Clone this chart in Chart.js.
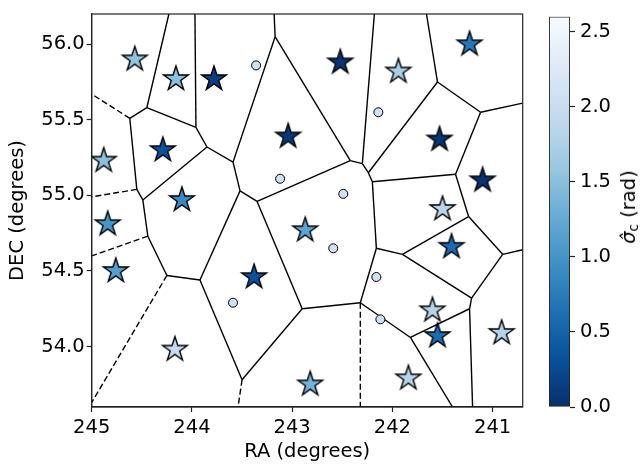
<!DOCTYPE html>
<html>
<head>
<meta charset="utf-8">
<script src="https://cdn.jsdelivr.net/npm/chart.js@4/dist/chart.umd.min.js"></script>
<style>
    html, body { margin: 0; padding: 0; background: #fff; }
    #wrap { position: relative; width: 643px; height: 468px; font-family: "DejaVu Sans", sans-serif; }
    #main { position: absolute; left: 0; top: 0; width: 643px; height: 468px; }
    #cbar { position: absolute; left: 540px; top: 0; width: 103px; height: 468px; }
    #cblabel {
        position: absolute; left: 629px; top: 207px;
        transform: translate(-50%, -50%) rotate(-90deg);
        font-size: 19.5px; white-space: nowrap; color: #000;
    }
    #cblabel sub { font-size: 13.5px; vertical-align: -3px; }
</style>
</head>
<body>
<div id="wrap">
    <div id="main"><canvas id="mainChart"></canvas></div>
    <div id="cbar"><canvas id="cbarChart"></canvas></div>
    <div id="cblabel"><i>&#963;&#770;</i><sub>c</sub> (rad)</div>
</div>
<script>
const raTicks = [245, 244, 243, 242, 241];
const raTickLabels = ["245", "244", "243", "242", "241"];
const decTicks = [54.0, 54.5, 55.0, 55.5, 56.0];
const decTickLabels = ["54.0", "54.5", "55.0", "55.5", "56.0"];
const cbTicks = [0, 0.5, 1.0, 1.5, 2.0, 2.5];
const cbTickLabels = ["0.0", "0.5", "1.0", "1.5", "2.0", "2.5"];

const RA_MIN = 240.7, RA_MAX = 245.0;
const DEC_MIN = 53.6, DEC_MAX = 56.2;
const CB_MAX = 2.6;

// stars
const starRA    = [244.57, 244.16, 243.78, 242.52, 241.94, 241.23, 244.88, 244.29, 243.04, 241.53, 244.10, 244.84,
                   241.10, 241.50, 242.87, 244.76, 243.38, 241.41, 241.60, 241.55, 240.91, 244.17, 242.82, 241.84];
const starDEC   = [55.90, 55.77, 55.77, 55.88, 55.82, 56.00, 55.23, 55.30, 55.39, 55.37, 54.97, 54.81,
                   55.10, 54.91, 54.77, 54.50, 54.46, 54.66, 54.24, 54.07, 54.09, 53.98, 53.75, 53.79];
const starSigma = [1.55, 1.50, 0.15, 0.04, 1.72, 0.72, 1.50, 0.34, 0.10, 0.04, 0.90, 1.02,
                   0.03, 1.85, 1.20, 1.12, 0.34, 0.58, 1.80, 0.60, 1.80, 1.95, 1.36, 1.82];

// small circles
const circRA    = [243.36, 242.14, 243.12, 242.49, 242.59, 242.16, 243.59, 242.12];
const circDEC   = [55.86, 55.55, 55.11, 55.01, 54.65, 54.46, 54.29, 54.18];
const circSigma = [2.08, 2.08, 2.08, 2.08, 2.08, 2.08, 2.08, 2.08];

// voronoi vertices (1-based in edge lists)
const vertRA  = [244.23, 244.45, 244.62, 245.00, 243.97, 243.96, 243.85, 243.59, 243.17, 243.18,
                 244.55, 245.00, 244.49, 244.44, 245.00, 244.25, 245.00, 243.92, 243.52, 243.35,
                 242.42, 242.30, 242.18, 242.24, 241.55, 241.66, 241.12, 240.70, 241.37, 242.20,
                 241.24, 240.90, 240.70, 241.21, 241.23, 241.20, 241.82, 241.40, 241.90, 242.16,
                 242.32, 242.32, 242.90, 243.50, 243.54];
const vertDEC = [56.20, 55.58, 55.51, 55.67, 56.20, 55.45, 55.32, 55.22, 56.05, 56.20,
                 55.04, 54.99, 54.97, 54.73, 54.60, 54.47, 53.63, 54.44, 55.03, 54.96,
                 55.23, 55.21, 56.20, 55.15, 55.75, 56.20, 55.55, 55.61, 55.14, 55.09,
                 54.86, 54.61, 54.64, 54.32, 54.25, 53.60, 54.06, 53.60, 54.61, 54.65,
                 54.29, 53.60, 54.25, 53.78, 53.60];
const solidEdges = [[1,2],[2,3],[2,6],[5,6],[6,7],[7,8],[7,13],[3,11],[11,13],[13,14],[14,16],[16,18],
                    [8,9],[8,19],[9,10],[9,21],[19,20],[19,18],[20,21],[20,43],[21,22],[22,23],[22,24],
                    [24,25],[25,26],[25,27],[27,28],[27,29],[29,30],[24,30],[29,31],[30,40],[31,39],
                    [31,32],[32,33],[32,34],[34,39],[34,35],[35,36],[35,37],[37,41],[37,38],[39,40],
                    [40,41],[41,43],[43,44],[44,18]];
const dashedEdges = [[3,4],[11,12],[14,15],[16,17],[41,42],[44,45]];

const BLUES = ["#f7fbff", "#deebf7", "#c6dbef", "#9ecae1", "#6baed6", "#4292c6", "#2171b5", "#08519c", "#08306b"];
const FONT = { family: "DejaVu Sans", size: 19.5 };
const INK = "#000";

function hexRgb(h) {
    return [1, 3, 5].map(i => parseInt(h.slice(i, i + 2), 16));
}

function blues(t) {
    t = Math.max(0, Math.min(1, t));
    const p = t * 8;
    const i = Math.min(7, Math.floor(p));
    const f = p - i;
    const a = hexRgb(BLUES[i]), b = hexRgb(BLUES[i + 1]);
    const c = a.map((v, k) => Math.round(v + (b[k] - v) * f));
    return `rgb(${c[0]},${c[1]},${c[2]})`;
}

// Blues reversed: low sigma = dark
function sigmaColor(v) {
    return blues(1 - v / CB_MAX);
}

function starImage(fill) {
    const R = 13, r = R * 0.382, size = 32;
    const c = document.createElement("canvas");
    c.width = size; c.height = size;
    const g = c.getContext("2d");
    g.translate(size / 2, size / 2);
    g.beginPath();
    for (let k = 0; k < 10; k++) {
        const rad = k % 2 === 0 ? R : r;
        const a = -Math.PI / 2 + k * Math.PI / 5;
        const px = rad * Math.cos(a), py = rad * Math.sin(a);
        if (k === 0) g.moveTo(px, py); else g.lineTo(px, py);
    }
    g.closePath();
    g.fillStyle = fill;
    g.fill();
    g.lineWidth = 1.4;
    g.lineJoin = "miter";
    g.strokeStyle = "#000";
    g.stroke();
    return c;
}

function edgeDataset(e, dashed) {
    const [a, b] = e;
    return {
        data: [{ x: vertRA[a - 1], y: vertDEC[a - 1] }, { x: vertRA[b - 1], y: vertDEC[b - 1] }],
        showLine: true,
        pointRadius: 0,
        borderColor: "#000",
        borderWidth: 1.4,
        borderDash: dashed ? [6, 3] : [],
        order: 2,
    };
}

const frame = {
    id: "frame",
    afterDatasetsDraw(chart) {
        const { ctx, chartArea: a } = chart;
        ctx.save();
        ctx.strokeStyle = "#222";
        ctx.lineWidth = 1.2;
        ctx.strokeRect(a.left, a.top, a.right - a.left, a.bottom - a.top);
        ctx.restore();
    },
};

const datasets = [
    {
        label: "stars",
        data: starRA.map((x, i) => ({ x, y: starDEC[i] })),
        pointStyle: starSigma.map(v => starImage(sigmaColor(v))),
        pointRadius: 13,
        order: 0,
    },
    {
        label: "circles",
        data: circRA.map((x, i) => ({ x, y: circDEC[i] })),
        pointStyle: "circle",
        pointRadius: 4.5,
        backgroundColor: circSigma.map(sigmaColor),
        borderColor: "#000",
        borderWidth: 1,
        order: 1,
    },
    ...solidEdges.map(e => edgeDataset(e, false)),
    ...dashedEdges.map(e => edgeDataset(e, true)),
];

new Chart(document.getElementById("mainChart"), {
    type: "scatter",
    data: { datasets },
    options: {
        responsive: true,
        maintainAspectRatio: false,
        animation: false,
        events: [],
        layout: { padding: { left: 0, top: 6, right: 120.3, bottom: 0 } },
        plugins: { legend: { display: false }, tooltip: { enabled: false } },
        scales: {
            x: {
                type: "linear",
                reverse: true,
                min: RA_MIN,
                max: RA_MAX,
                afterBuildTicks: s => { s.ticks = raTicks.map(value => ({ value })); },
                afterFit: s => { s.height = 61; },
                ticks: { color: INK, font: FONT, padding: 4, autoSkip: false, maxRotation: 0,
                         callback: (v, i) => raTickLabels[i] },
                grid: { drawOnChartArea: false, tickLength: 5, tickWidth: 1.2, tickColor: "#222" },
                border: { color: "#222", width: 1.2 },
                title: { display: true, text: "RA (degrees)", color: INK, font: FONT, padding: { top: 0, bottom: 4 } },
            },
            y: {
                type: "linear",
                min: DEC_MIN,
                max: DEC_MAX,
                afterBuildTicks: s => { s.ticks = decTicks.map(value => ({ value })); },
                afterFit: s => { s.width = 91.7; },
                ticks: { color: INK, font: FONT, padding: 2, autoSkip: false,
                         callback: (v, i) => decTickLabels[i] },
                grid: { drawOnChartArea: false, tickLength: 5, tickWidth: 1.2, tickColor: "#222" },
                border: { color: "#222", width: 1.2 },
                title: { display: true, text: "DEC (degrees)", color: INK, font: FONT, padding: { top: 6, bottom: 0 } },
            },
        },
    },
    plugins: [frame],
});

function cbGradient(chart) {
    const a = chart.chartArea;
    if (!a) return BLUES[4];
    const grad = chart.ctx.createLinearGradient(0, a.bottom, 0, a.top);
    for (let k = 0; k <= 26; k++) {
        const v = k / 26 * CB_MAX;
        grad.addColorStop(k / 26, sigmaColor(v));
    }
    return grad;
}

new Chart(document.getElementById("cbarChart"), {
    type: "bar",
    data: {
        labels: [""],
        datasets: [{
            data: [CB_MAX],
            backgroundColor: ctx => cbGradient(ctx.chart),
            borderColor: "#222",
            borderWidth: 1.2,
            borderSkipped: false,
            barPercentage: 1,
            categoryPercentage: 1,
        }],
    },
    options: {
        responsive: true,
        maintainAspectRatio: false,
        animation: false,
        events: [],
        layout: { padding: { left: 9, top: 6, right: 0, bottom: 61 } },
        plugins: { legend: { display: false }, tooltip: { enabled: false } },
        scales: {
            x: { display: false },
            y: {
                position: "right",
                min: 0,
                max: CB_MAX,
                afterBuildTicks: s => { s.ticks = cbTicks.map(value => ({ value })); },
                afterFit: s => { s.width = 73; },
                ticks: { color: INK, font: FONT, padding: 5, autoSkip: false,
                         callback: (v, i) => cbTickLabels[i] },
                grid: { drawOnChartArea: false, tickLength: 5, tickWidth: 1.2, tickColor: "#222" },
                border: { display: false },
            },
        },
    },
});
</script>
</body>
</html>
